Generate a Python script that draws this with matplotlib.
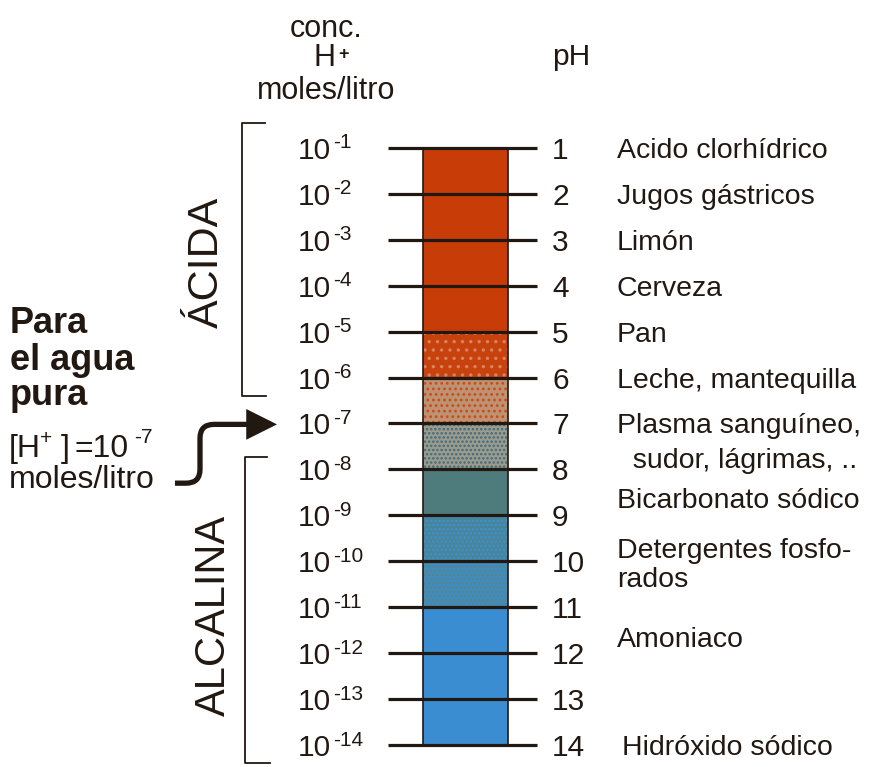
import matplotlib.pyplot as plt
from matplotlib.patches import FancyArrowPatch
from matplotlib.path import Path

plt.rcParams['font.family'] = ['Liberation Sans', 'DejaVu Sans']
plt.rcParams['hatch.linewidth'] = 1.2

# pH scale and [H+] exponents
ph_values = list(range(1, 15))
conc_exp = [-p for p in ph_values]

# substances and the pH row where each text line sits
substances = ["Acido clorhídrico", "Jugos gástricos", "Limón", "Cerveza", "Pan",
              "Leche, mantequilla", "Plasma sanguíneo,", "  sudor, lágrimas, ..",
              "Bicarbonato sódico", "Detergentes fosfo-", "rados", "Amoniaco",
              "Hidróxido sódico"]
substance_ph = [1, 2, 3, 4, 5, 6, 7, 7.75, 8.62, 9.71, 10.34, 11.65, 14]

# colour bands of the bar (base colour, speckle colour, speckle pattern)
band_edges = [1, 5, 6, 7, 8, 9, 10, 11, 14]
band_colors = ['#c83c08', '#c8420e', '#bc9474', '#9c9c8c', '#4e7b7b',
               '#4a8498', '#3f8cc0', '#3a8dd0']
band_speckle = [None, '#d88460', '#d04818', '#3e6a80', None,
                '#3a92d4', '#5a8484', None]
band_hatch = [None, '..', '...', '....', None, '....', '....', None]

ink = '#221812'

fig = plt.figure(figsize=(8.69, 7.67), dpi=100)
ax = fig.add_axes([0, 0, 1, 1])
ax.set_xlim(0, 869)
ax.set_ylim(14.48, -2.22)
ax.axis('off')

# bar
starts = band_edges[:-1]
heights = [b - a for a, b in zip(band_edges[:-1], band_edges[1:])]
ax.bar([465] * len(starts), heights, bottom=starts, width=85,
       color=band_colors, linewidth=0, zorder=2)
for s, h, c, hp in zip(starts, heights, band_speckle, band_hatch):
    if c:
        ax.bar(465, h, bottom=s, width=85, facecolor='none', edgecolor=c,
               linewidth=0, hatch=hp, zorder=3)
ax.bar(465, band_edges[-1] - band_edges[0], bottom=band_edges[0], width=85,
       facecolor='none', edgecolor=ink, linewidth=1.2, zorder=4)

# tick lines across the bar
ax.hlines(ph_values, 388, 537, color=ink, linewidth=2.3, zorder=5)

# pH numbers and concentration labels
for p, e in zip(ph_values, conc_exp):
    ax.text(552, p, str(p), fontsize=21.5, color=ink, ha='left', va='center_baseline')
    ax.text(298, p, '10', fontsize=21.5, color=ink, ha='left', va='center_baseline')
    ax.annotate('-' + str(-e), xy=(298, p), xytext=(25, 5), textcoords='offset points',
                fontsize=15, color=ink, ha='left', va='center_baseline')

# substance labels
for name, p in zip(substances, substance_ph):
    x = 622 if name.startswith('Hidr') else 617
    ax.text(x, p, name, fontsize=20.5, color=ink, ha='left', va='center_baseline')

# header
ax.text(326, -1.42, 'conc.', fontsize=22, color=ink, ha='center', va='baseline')
ax.text(336, -0.78, 'H', fontsize=22, color=ink, ha='right', va='baseline')
ax.annotate('+', xy=(336, -0.78), xytext=(1.5, 5), textcoords='offset points',
            fontsize=13, fontweight='bold', color=ink, ha='left', va='baseline')
ax.text(326, -0.07, 'moles/litro', fontsize=22, color=ink, ha='center', va='baseline')
ax.text(552, -0.81, 'pH', fontsize=21.5, color=ink, ha='left', va='baseline')

# acid / alkaline brackets
ax.plot([265, 242, 242, 266], [0.45, 0.45, 6.4, 6.4], color=ink, linewidth=1.3)
ax.plot([267, 245, 245, 270], [7.72, 7.72, 14.4, 14.4], color=ink, linewidth=1.3)
ax.text(207, 3.5, 'ÁCIDA', fontsize=31, color=ink, rotation=90, ha='center', va='center')
ax.text(214, 11.19, 'ALCALINA', fontsize=30, color=ink, rotation=90, ha='center', va='center')

# pure water note
ax.text(10, 5.03, 'Para', fontsize=26, fontweight='bold', color=ink, va='baseline')
ax.text(10, 5.83, 'el agua', fontsize=26, fontweight='bold', color=ink, va='baseline')
ax.text(10, 6.6, 'pura', fontsize=26, fontweight='bold', color=ink, va='baseline')
ax.text(9, 7.73, '[H', fontsize=23, color=ink, va='baseline')
ax.annotate('+', xy=(9, 7.73), xytext=(22, 9), textcoords='offset points',
            fontsize=15, color=ink, va='baseline')
ax.annotate(']', xy=(9, 7.73), xytext=(37, 0), textcoords='offset points',
            fontsize=23, color=ink, va='baseline')
ax.annotate('=10', xy=(9, 7.73), xytext=(47, 0), textcoords='offset points',
            fontsize=23, color=ink, va='baseline')
ax.annotate('-7', xy=(9, 7.73), xytext=(90, 10), textcoords='offset points',
            fontsize=15, color=ink, va='baseline')
ax.text(9, 8.4, 'moles/litro', fontsize=23, color=ink, va='baseline')

verts = [(175, 8.3), (186, 8.3), (200, 8.3), (200, 8.0), (200, 7.32),
         (200, 7.02), (214, 7.02), (277, 7.02)]
codes = [Path.MOVETO, Path.LINETO, Path.CURVE3, Path.CURVE3, Path.LINETO,
         Path.CURVE3, Path.CURVE3, Path.LINETO]
arrow = FancyArrowPatch(path=Path(verts, codes),
                        arrowstyle='-|>,head_length=1.6,head_width=0.8',
                        mutation_scale=10, linewidth=3.8, color=ink,
                        joinstyle='miter', capstyle='butt')
ax.add_patch(arrow)

fig.savefig('out.png', dpi=100, facecolor='white')
